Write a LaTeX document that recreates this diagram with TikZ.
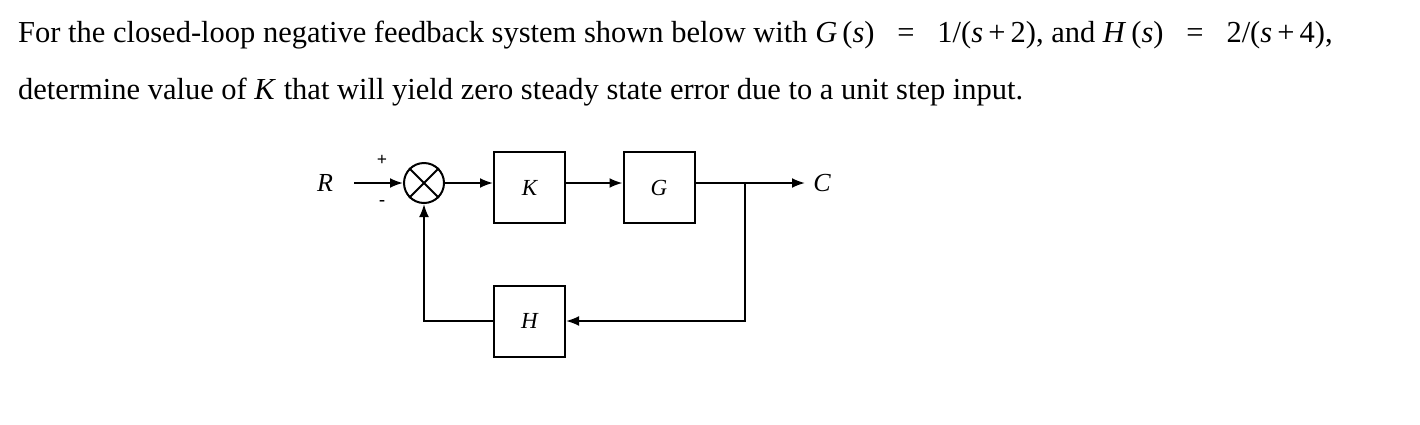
\documentclass[tikz,border=0pt]{standalone}
\usepackage{fontspec}
\setmainfont{Liberation Serif}
\usetikzlibrary{arrows.meta}
\newcommand{\mv}[1]{\textit{#1}}
\begin{document}
\begin{tikzpicture}[x=1pt,y=-1pt,
  blk/.style={draw,line width=2pt,minimum width=71pt,minimum height=71pt,inner sep=0pt,font=\fontsize{23}{24}\selectfont\itshape},
  ln/.style={line width=2pt},
  arr/.style={ln,-{Latex[length=13pt,width=10pt]}},
  txt/.style={anchor=west,inner sep=0pt,font=\fontsize{30.5}{32}\selectfont}]
\useasboundingbox (0,0) rectangle (1420,424);
\node[txt] (l1) at (18,35) {For the closed-loop negative feedback system shown below with \mv{G}\,(\mv{s})\ \ \ =\ \ \ 1/(\mv{s}\,+\,2), and \mv{H}\,(\mv{s})\ \ \ =\ \ \ 2/(\mv{s}\,+\,4),};
\node[txt] (l2) at (18,92) {determine value of \mv{K} that will yield zero steady state error due to a unit step input.};
\node[draw,circle,line width=2pt,minimum size=40pt,inner sep=0pt] (sum) at (424,183) {};
\draw[line width=2pt] (sum.north west)--(sum.south east) (sum.north east)--(sum.south west);
\node[blk] (K) at (529.5,187.5) {K};
\node[blk] (G) at (659,187.5) {G};
\node[blk] (H) at (529.5,321) {H};
\node[font=\fontsize{26}{26}\selectfont\itshape] (R) at (325,183) {R};
\node[font=\fontsize{26}{26}\selectfont\itshape] (C) at (822,183) {C};
\node[font=\fontsize{18}{18}\selectfont\bfseries] (plus) at (382,160) {+};
\node[font=\fontsize{18}{18}\selectfont\bfseries] (minus) at (382,203) {-};
\coordinate (rs) at (354,183);
\coordinate (br) at (745,183);
\coordinate (ce) at (805,183);
\draw[arr] (rs) -- (sum.west);
\draw[arr] (sum.east) -- (K.west|-sum.east);
\draw[arr] (K.east|-sum.east) -- (G.west|-sum.east);
\draw[arr] (G.east|-sum.east) -- (ce);
\draw[arr] (br) |- (H.east);
\draw[arr] (H.west) -| (sum.south);
\end{tikzpicture}
\end{document}
